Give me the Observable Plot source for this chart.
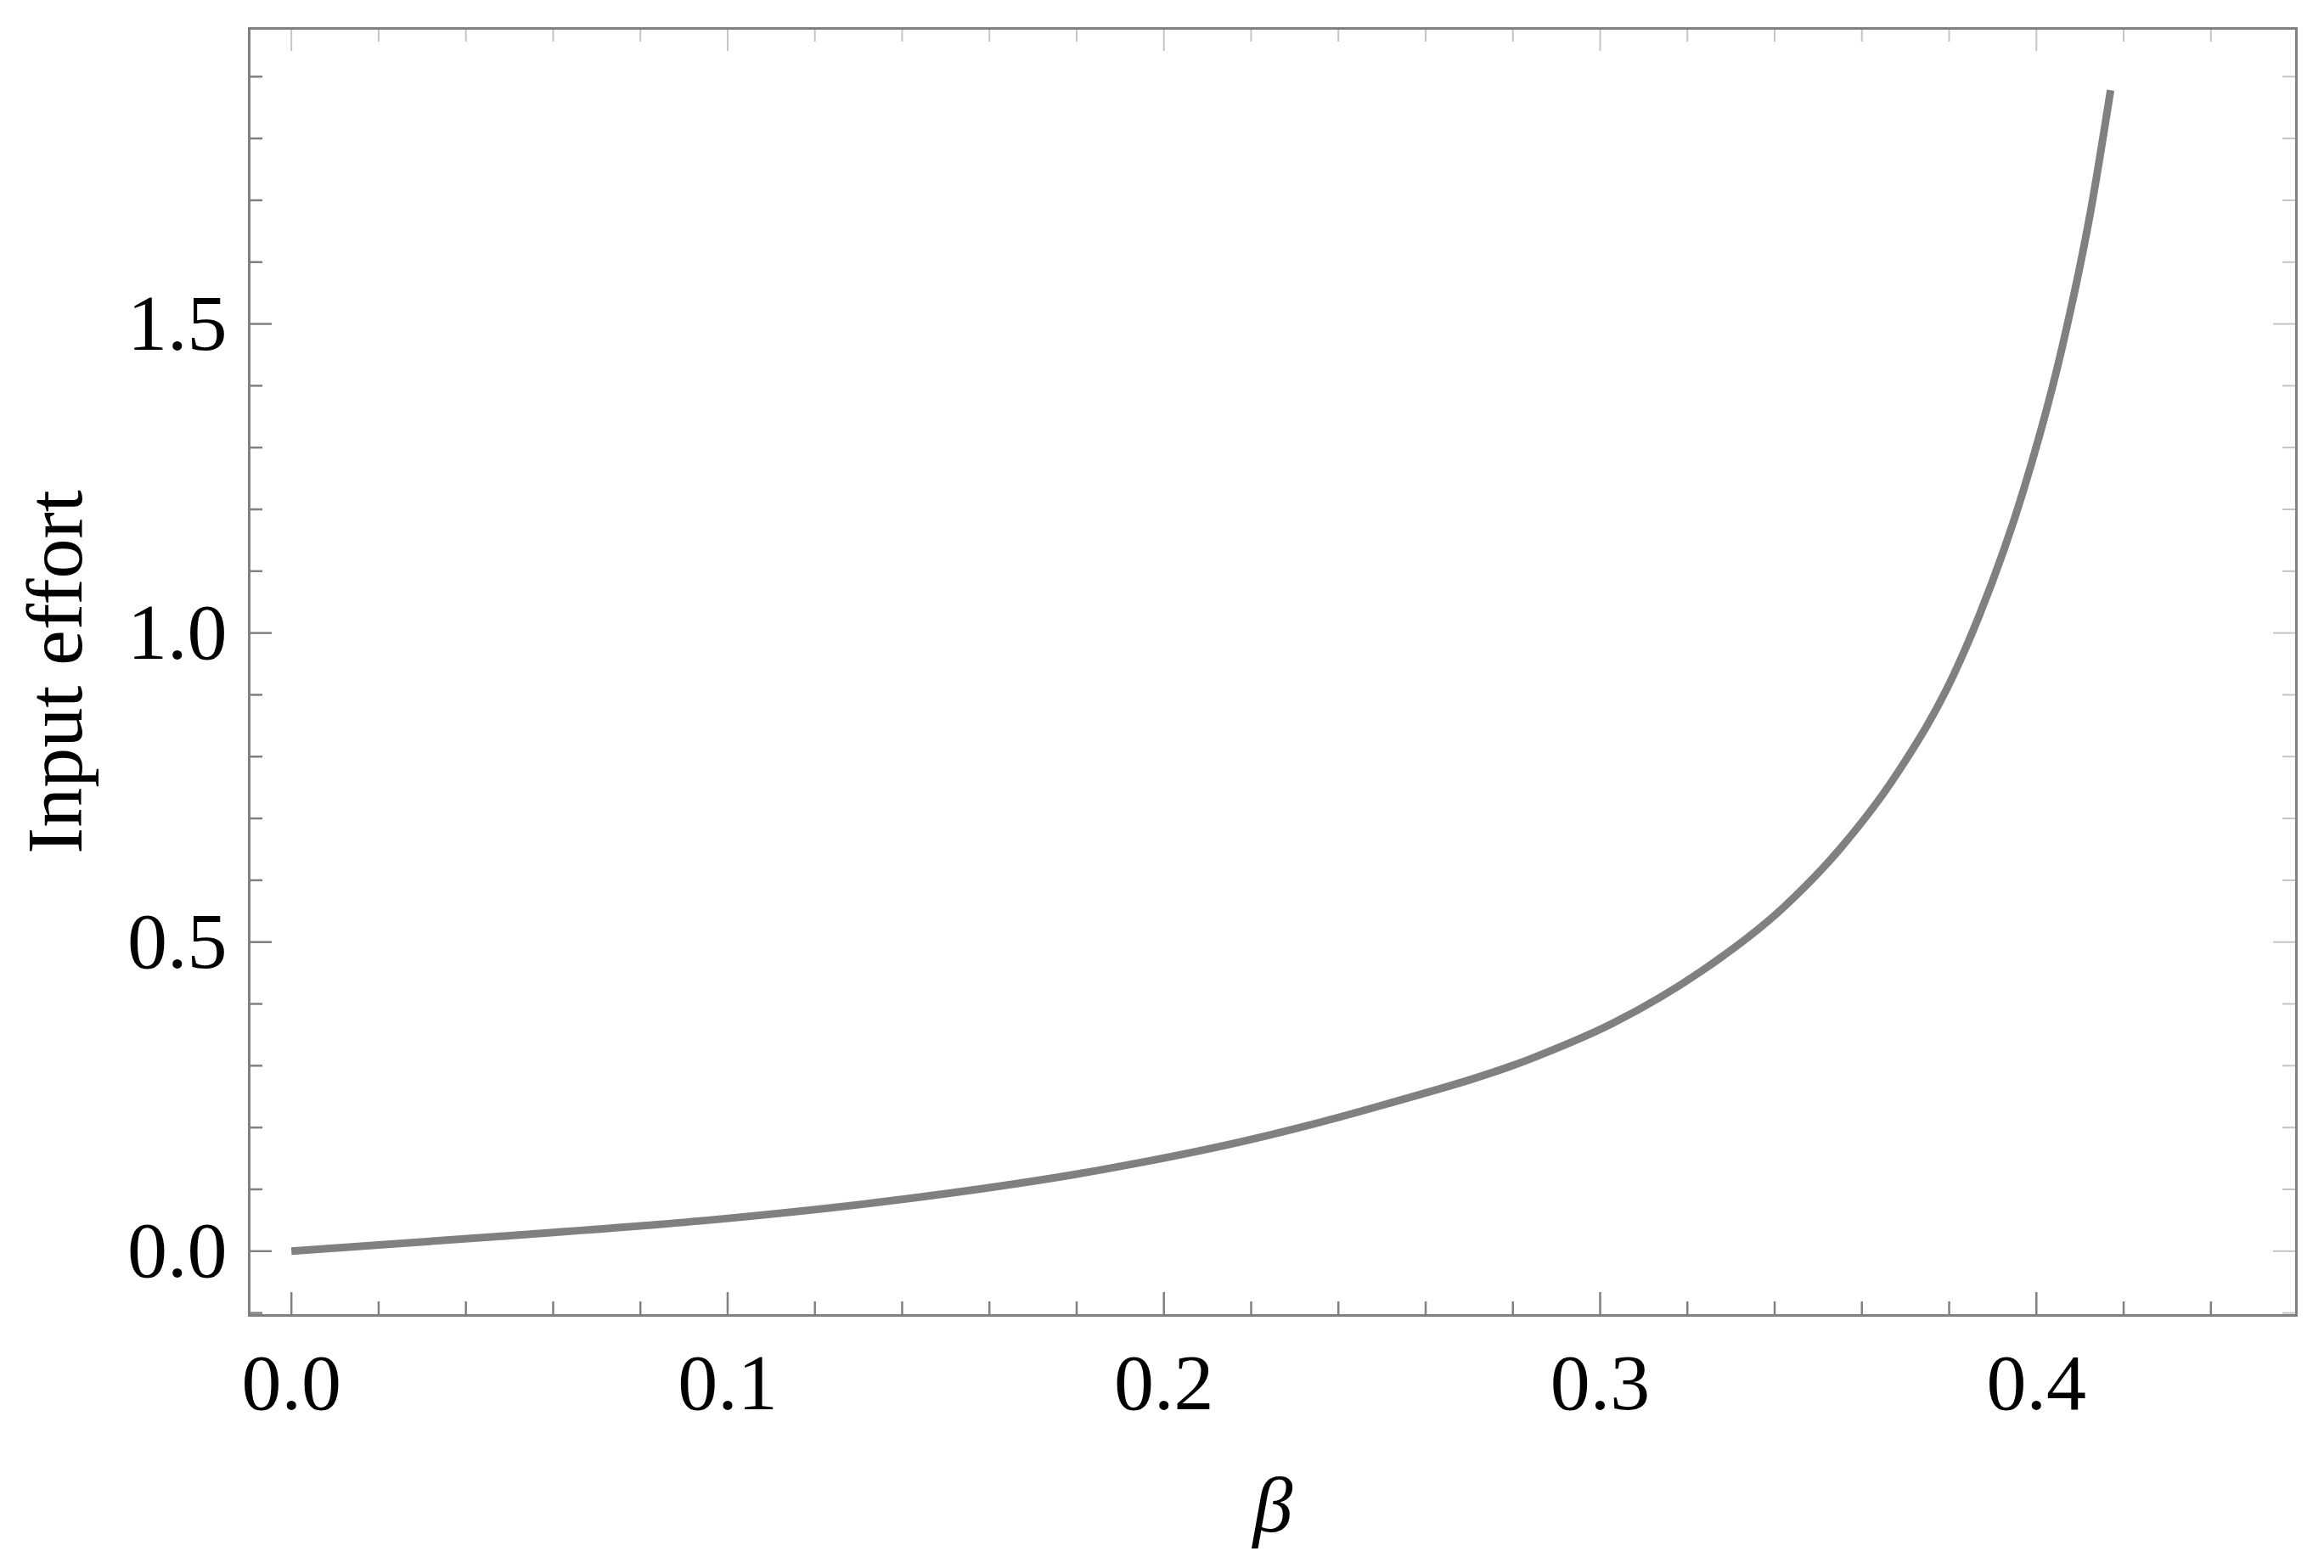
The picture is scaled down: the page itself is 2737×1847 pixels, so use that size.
<!DOCTYPE html>
<html>
<head>
<meta charset="utf-8">
<script src="https://cdn.jsdelivr.net/npm/d3@7"></script>
<script src="https://cdn.jsdelivr.net/npm/@observablehq/plot@0.6"></script>
<style>
  html, body { margin: 0; padding: 0; background: #ffffff; }
  #chart svg { display: block; }
</style>
</head>
<body>
<div id="chart"></div>
<script>
// ---- data ----
const beta   = [0, 0.048, 0.097, 0.138, 0.186, 0.219, 0.251, 0.284, 0.303, 0.323, 0.342, 0.355, 0.368, 0.381, 0.387, 0.397, 0.406, 0.4125, 0.417];
const effort = [0, 0.024, 0.051, 0.082, 0.132, 0.179, 0.238, 0.311, 0.369, 0.452, 0.556, 0.651, 0.772, 0.932, 1.030, 1.230, 1.465, 1.685, 1.878];

const xMajorTicks = [0, 0.1, 0.2, 0.3, 0.4];
const xMinorTicks = [0.02, 0.04, 0.06, 0.08, 0.12, 0.14, 0.16, 0.18, 0.22, 0.24, 0.26, 0.28, 0.32, 0.34, 0.36, 0.38, 0.42, 0.44];
const yMajorTicks = [0, 0.5, 1.0, 1.5];
const yMinorTicks = [-0.1, 0.1, 0.2, 0.3, 0.4, 0.6, 0.7, 0.8, 0.9, 1.1, 1.2, 1.3, 1.4, 1.6, 1.7, 1.8, 1.9];

const xLabel = "β";
const yLabel = "Input effort";

// ---- layout ----
const W = 2737, H = 1847;
const mL = 293, mR = 33, mT = 33, mB = 298;
const pw = W - mL - mR, ph = H - mT - mB;
const majLen = 27, minLen = 16;
const axisColor = "#808080";
const mirrorColor = "#c4c4c4";
const font = "'Liberation Serif', 'Times New Roman', Times, serif";
const fs = 94;

const pts = beta.map((b, i) => ({beta: b, effort: effort[i]}));

const chart = Plot.plot({
  width: W,
  height: H,
  marginLeft: mL,
  marginRight: mR,
  marginTop: mT,
  marginBottom: mB,
  style: {fontFamily: font, fontSize: fs + "px", color: "black", background: "white"},
  x: {domain: [-0.00967, 0.4596]},
  y: {domain: [-0.104, 1.978]},
  marks: [
    // bottom ticks (inward)
    Plot.tickX(xMajorTicks, {x: d => d, stroke: axisColor, strokeWidth: 2.5, insetTop: ph - majLen}),
    Plot.tickX(xMinorTicks, {x: d => d, stroke: axisColor, strokeWidth: 2.5, insetTop: ph - minLen}),
    // top ticks (mirrored, lighter)
    Plot.tickX(xMajorTicks, {x: d => d, stroke: mirrorColor, strokeWidth: 2, insetBottom: ph - majLen}),
    Plot.tickX(xMinorTicks, {x: d => d, stroke: mirrorColor, strokeWidth: 2, insetBottom: ph - minLen}),
    // left ticks
    Plot.tickY(yMajorTicks, {y: d => d, stroke: axisColor, strokeWidth: 2.5, insetRight: pw - majLen}),
    Plot.tickY(yMinorTicks, {y: d => d, stroke: axisColor, strokeWidth: 2.5, insetRight: pw - minLen}),
    // right ticks (mirrored, lighter)
    Plot.tickY(yMajorTicks, {y: d => d, stroke: mirrorColor, strokeWidth: 2, insetLeft: pw - majLen}),
    Plot.tickY(yMinorTicks, {y: d => d, stroke: mirrorColor, strokeWidth: 2, insetLeft: pw - minLen}),
    // frame
    Plot.frame({stroke: axisColor, strokeWidth: 3}),
    // tick labels
    Plot.axisX({ticks: xMajorTicks, tickSize: 0, tickPadding: 44, tickFormat: d3.format(".1f"), label: null, fontSize: fs, fill: "black"}),
    Plot.axisY({ticks: yMajorTicks, tickSize: 0, tickPadding: 26, tickFormat: d3.format(".1f"), label: null, fontSize: fs, fill: "black"}),
    // curve
    Plot.line(pts, {x: "beta", y: "effort", stroke: "#808080", strokeWidth: 9, curve: "monotone-x", strokeLinecap: "butt"}),
    // axis labels
    Plot.text([xLabel], {text: d => d, frameAnchor: "bottom", dy: 254, lineAnchor: "bottom", textAnchor: "middle", fontSize: fs, fontStyle: "italic", fill: "black"}),
    Plot.text([yLabel], {text: d => d, frameAnchor: "left", dx: 95 - mL, rotate: -90, lineAnchor: "bottom", textAnchor: "middle", fontSize: fs, fill: "black"})
  ]
});

document.getElementById("chart").appendChild(chart);
</script>
</body>
</html>
